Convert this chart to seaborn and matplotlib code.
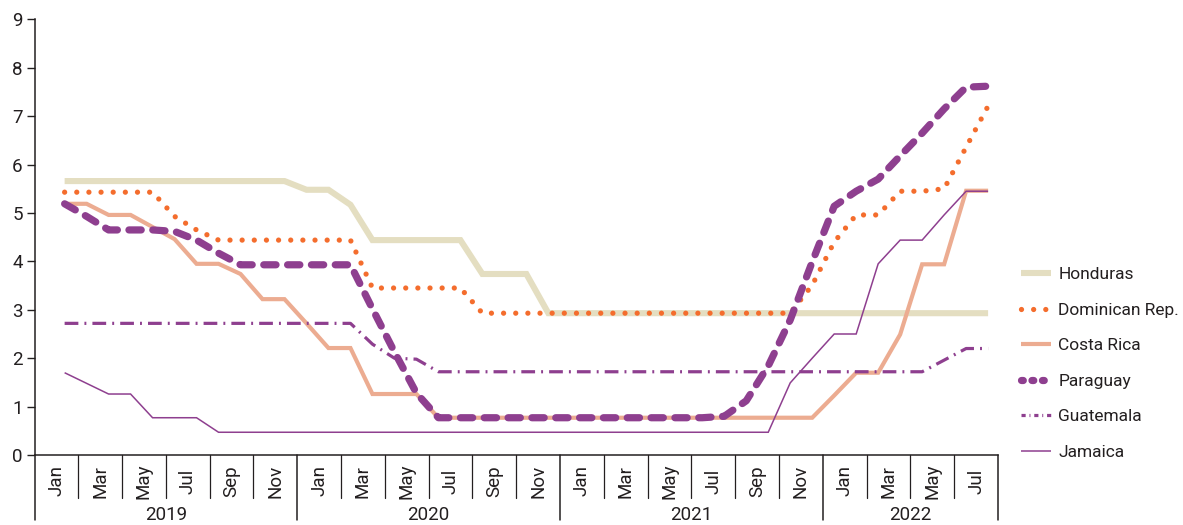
import numpy as np
import pandas as pd
import matplotlib
matplotlib.use("Agg")
import matplotlib.pyplot as plt
import seaborn as sns
from matplotlib.lines import Line2D

# ---------------- data (Jan 2019 .. Jul 2022, monthly) ----------------
years = ["2019", "2020", "2021", "2022"]
month_labels = ["Jan", "Mar", "May", "Jul", "Sep", "Nov"]
series_names = ["Honduras", "Dominican Rep.", "Costa Rica", "Paraguay", "Guatemala", "Jamaica"]

honduras = [5.66, 5.66, 5.66, 5.66, 5.66, 5.66, 5.66, 5.66, 5.66, 5.66, 5.66,
            5.48, 5.48, 5.17, 4.44, 4.44, 4.44, 4.44, 4.44, 3.74, 3.74, 3.74,
            2.93, 2.93, 2.93, 2.93, 2.93, 2.93, 2.93, 2.93, 2.93, 2.93, 2.93,
            2.93, 2.93, 2.93, 2.93, 2.93, 2.93, 2.93, 2.93, 2.93, 2.93]
dominican = [5.43, 5.43, 5.43, 5.43, 5.43, 4.93, 4.65, 4.44, 4.44, 4.44, 4.44,
             4.44, 4.44, 4.44, 3.45, 3.45, 3.45, 3.45, 3.45, 2.93, 2.93, 2.93,
             2.93, 2.93, 2.93, 2.93, 2.93, 2.93, 2.93, 2.93, 2.93, 2.93, 2.93,
             2.93, 3.51, 4.40, 4.96, 4.96, 5.45, 5.45, 5.50, 6.36, 7.21]
costa_rica = [5.19, 5.19, 4.96, 4.96, 4.71, 4.46, 3.95, 3.95, 3.74, 3.22, 3.22,
              2.72, 2.21, 2.21, 1.26, 1.26, 1.26, 0.77, 0.77, 0.77, 0.77, 0.77,
              0.77, 0.77, 0.77, 0.77, 0.77, 0.77, 0.77, 0.77, 0.77, 0.77, 0.77,
              0.77, 0.77, 1.23, 1.70, 1.70, 2.49, 3.94, 3.94, 5.46, 5.46]
paraguay = [5.19, 4.93, 4.65, 4.65, 4.65, 4.62, 4.44, 4.17, 3.93, 3.93, 3.93,
            3.93, 3.93, 3.93, 3.02, 2.13, 1.28, 0.77, 0.77, 0.77, 0.77, 0.77,
            0.77, 0.77, 0.77, 0.77, 0.77, 0.77, 0.77, 0.77, 0.80, 1.12, 1.84,
            2.79, 3.99, 5.14, 5.45, 5.70, 6.18, 6.65, 7.15, 7.60, 7.62]
guatemala = [2.72, 2.72, 2.72, 2.72, 2.72, 2.72, 2.72, 2.72, 2.72, 2.72, 2.72,
             2.72, 2.72, 2.72, 2.29, 2.00, 1.98, 1.72, 1.72, 1.72, 1.72, 1.72,
             1.72, 1.72, 1.72, 1.72, 1.72, 1.72, 1.72, 1.72, 1.72, 1.72, 1.72,
             1.72, 1.72, 1.72, 1.72, 1.72, 1.72, 1.72, 1.96, 2.20, 2.20]
jamaica = [1.70, 1.48, 1.26, 1.26, 0.77, 0.77, 0.77, 0.47, 0.47, 0.47, 0.47,
           0.47, 0.47, 0.47, 0.47, 0.47, 0.47, 0.47, 0.47, 0.47, 0.47, 0.47,
           0.47, 0.47, 0.47, 0.47, 0.47, 0.47, 0.47, 0.47, 0.47, 0.47, 0.47,
           1.49, 2.00, 2.50, 2.50, 3.95, 4.44, 4.44, 4.96, 5.45, 5.45]

# ---------------- styles ----------------
INK = "#231F20"
PURPLE = "#8E3F8F"
styles = {
    "Honduras":       dict(color="#E4DEC1", lw=4.4, ls="-", cap="butt"),
    "Dominican Rep.": dict(color="#F46D2D", lw=3.8, ls=(0, (0.001, 2.3)), cap="round"),
    "Costa Rica":     dict(color="#ECAC91", lw=3.0, ls="-", cap="butt"),
    "Paraguay":       dict(color=PURPLE, lw=5.2, ls=(0, (1.7, 1.6)), cap="round"),
    "Guatemala":      dict(color=PURPLE, lw=2.3, ls=(0, (4.3, 1.9, 0.6, 1.9)), cap="butt"),
    "Jamaica":        dict(color=PURPLE, lw=1.1, ls="-", cap="butt"),
}
legend_ls = {
    "Honduras": "-",
    "Dominican Rep.": (0, (0.001, 2.3)),
    "Costa Rica": "-",
    "Paraguay": (0, (0.25, 1.2)),
    "Guatemala": (0, (1.3, 1.2, 0.3, 1.2)),
    "Jamaica": "-",
}

sns.set_style("white")
plt.rcParams["font.family"] = ["Roboto", "DejaVu Sans"]
plt.rcParams["text.color"] = INK
FS = 13.5
LFS = 12.5

n = len(honduras)
df = pd.DataFrame({"month": np.arange(n), "Honduras": honduras,
                   "Dominican Rep.": dominican, "Costa Rica": costa_rica,
                   "Paraguay": paraguay, "Guatemala": guatemala, "Jamaica": jamaica})

W, H = 1183, 525
fig = plt.figure(figsize=(W / 100, H / 100), dpi=100)
xmin, xmax = -1.37, 42.45
px0, px1 = 34.5, 998.0
y0, y9 = 455.0, 19.4
ax = fig.add_axes([px0 / W, (H - y0) / H, (px1 - px0) / W, (y0 - y9) / H])

for name in series_names:
    st = styles[name]
    sns.lineplot(data=df, x="month", y=name, ax=ax, color=st["color"], linewidth=st["lw"],
                 linestyle=st["ls"], dash_capstyle=st["cap"], solid_capstyle="butt",
                 solid_joinstyle="miter" if st["ls"] == "-" else "round", legend=False)

ax.set_xlim(xmin, xmax)
ax.set_ylim(0, 9)
ax.set_yticks(range(10))
ax.set_xticks([])
ax.set_xlabel("")
ax.set_ylabel("")
for s in ["top", "right"]:
    ax.spines[s].set_visible(False)
for s in ["left", "bottom"]:
    ax.spines[s].set_color(INK)
    ax.spines[s].set_linewidth(1.1)
ax.tick_params(axis="y", which="major", direction="out", length=6, width=1.0,
               color=INK, labelsize=FS, labelcolor=INK, pad=2.5, left=True)

# ---------------- hierarchical month / year axis ----------------
slot = (xmax - xmin) / 44.0
axh = y0 - y9
mon_sep_end = -(498 - y0) / axh
yr_sep_end = -(520 - y0) / axh
mon_lab_y = -(481 - y0) / axh
yr_lab_y = -(515.5 - y0) / axh
trans = ax.get_xaxis_transform()

n_pairs = 22
for j in range(n_pairs):
    lab = month_labels[j % 6]
    xc = xmin + slot * (2 * j + 1)
    ax.text(xc, mon_lab_y, lab, rotation=90, ha="center", va="center",
            fontsize=FS, color=INK, transform=trans)
    if j > 0 and j % 6 != 0:
        xs = xmin + slot * 2 * j
        ax.plot([xs, xs], [0, mon_sep_end], color=INK, lw=0.9, transform=trans, clip_on=False)

year_edges = [xmin + slot * 12 * k for k in range(len(years))] + [xmax]
for k, yr in enumerate(years):
    a, b = year_edges[k], year_edges[k + 1]
    ax.text((a + b) / 2, yr_lab_y, yr, ha="center", va="center", fontsize=FS,
            color=INK, transform=trans)
for xs in year_edges:
    ax.plot([xs, xs], [0, yr_sep_end], color=INK, lw=1.1, transform=trans, clip_on=False)

# ---------------- legend ----------------
handles = []
for name in series_names:
    st = styles[name]
    handles.append(Line2D([], [], color=st["color"], lw=st["lw"], linestyle=legend_ls[name],
                          dash_capstyle=st["cap"], solid_capstyle="butt"))
leg = fig.legend(handles, series_names, loc="center left",
                 bbox_to_anchor=(1021 / W, (H - 363.5) / H), bbox_transform=fig.transFigure,
                 frameon=False, fontsize=LFS, handlelength=1.72, handletextpad=0.42,
                 labelspacing=1.17, borderpad=0, borderaxespad=0)
for t in leg.get_texts():
    t.set_color(INK)

fig.savefig("out.png", dpi=100)
